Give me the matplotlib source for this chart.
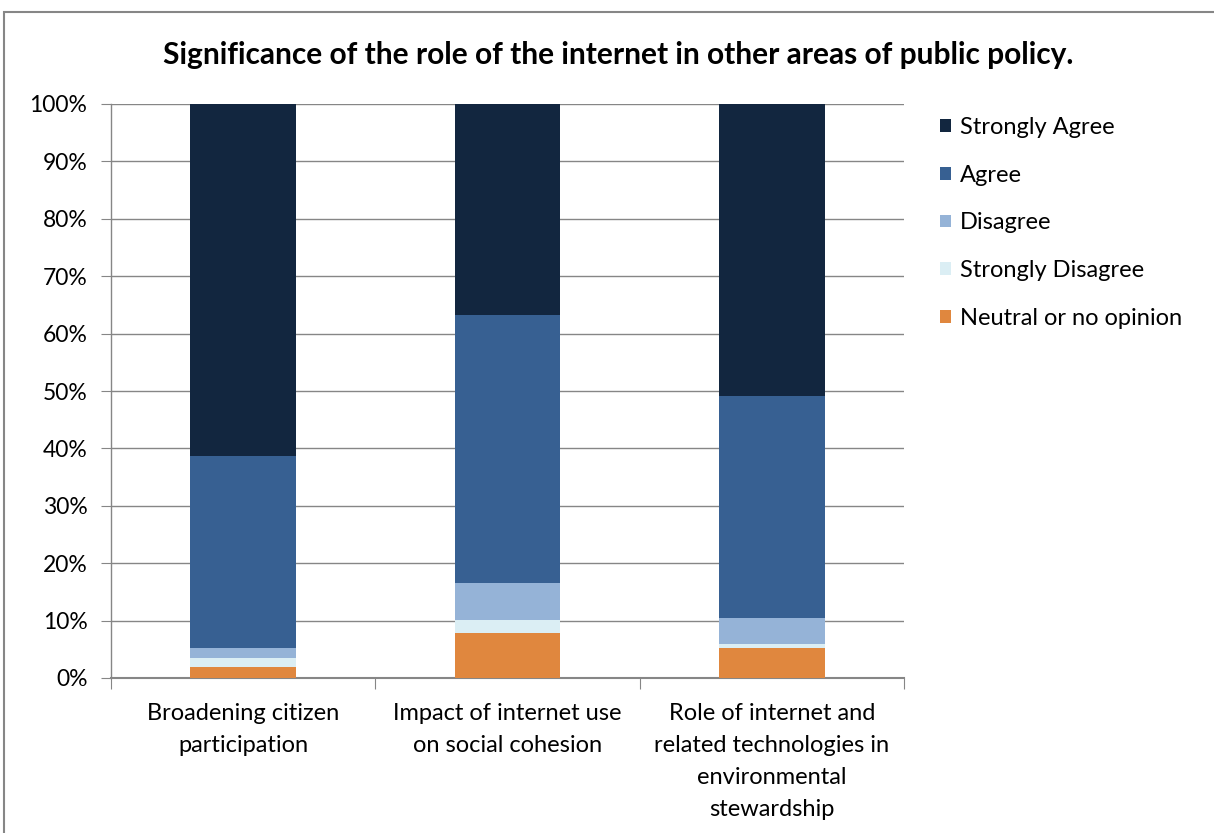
import numpy as np
import matplotlib
matplotlib.use("Agg")
import matplotlib.pyplot as plt
from matplotlib.patches import Rectangle, Patch
from matplotlib.ticker import PercentFormatter

plt.rcParams['font.family'] = ['Lato', 'DejaVu Sans']

categories = ["Broadening citizen\nparticipation",
              "Impact of internet use\non social cohesion",
              "Role of internet and\nrelated technologies in\nenvironmental\nstewardship"]
# stacked bottom-up
series = ["Neutral or no opinion", "Strongly Disagree", "Disagree", "Agree", "Strongly Agree"]
neutral = [1.9, 7.9, 5.2]
strongly_disagree = [1.5, 2.2, 0.8]
disagree = [1.9, 6.5, 4.5]
agree = [33.3, 46.6, 38.7]
strongly_agree = [61.4, 36.8, 50.8]
colors = ["#E0873E", "#DBEEF4", "#95B3D7", "#376092", "#12263F"]

values = [neutral, strongly_disagree, disagree, agree, strongly_agree]

fig = plt.figure(figsize=(12.14, 8.33), dpi=100)
ax = fig.add_axes([111/1214, 1-678/833, (904-111)/1214, (678-104)/833])

# outer chart border
fig.patches.append(Rectangle((4/1214, -0.1), 1.2, 1 - 12/833 + 0.1, transform=fig.transFigure,
                             fill=False, edgecolor="#868686", linewidth=1.5))

x = np.arange(len(categories))
bottom = np.zeros(len(categories))
for name, vals, c in zip(series, values, colors):
    ax.bar(x, vals, 0.4, bottom=bottom, color=c, label=name, zorder=3)
    bottom += np.array(vals)

ax.set_xlim(-0.5, len(categories) - 0.5)
ax.set_ylim(0, 100)
ax.set_yticks(np.arange(0, 101, 10))
ax.yaxis.set_major_formatter(PercentFormatter(decimals=0))
ax.yaxis.grid(True, color="#868686", linewidth=1, zorder=0)
ax.set_axisbelow(True)
for s in ["top", "right"]:
    ax.spines[s].set_visible(False)
ax.spines["left"].set_color("#868686")
ax.spines["bottom"].set_color("#868686")
ax.spines["left"].set_linewidth(1)
ax.spines["bottom"].set_linewidth(1.5)
ax.tick_params(axis="y", length=7, color="#868686", labelsize=16.5, pad=10)

ax.set_xticks(np.arange(-0.5, len(categories), 1.0))
ax.set_xticklabels([])
ax.tick_params(axis="x", length=8, color="#868686")
ax.set_xticks(x, minor=True)
ax.set_xticklabels(categories, minor=True, fontsize=17, linespacing=1.64)
ax.tick_params(axis="x", which="minor", length=0, pad=18)

fig.text(618/1214, 1 - 55/833, "Significance of the role of the internet in other areas of public policy.",
         ha="center", va="center", fontsize=21.5, fontweight="bold")

handles = [Patch(facecolor=c, label=n) for n, c in zip(series[::-1], colors[::-1])]
fig.legend(handles=handles, loc="upper left", bbox_to_anchor=(940/1214, 1 - 117/833),
           frameon=False, fontsize=17, handlelength=0.45, handleheight=0.45,
           handletextpad=0.4, labelspacing=1.13, borderpad=0, borderaxespad=0)

fig.savefig("out.png", dpi=100)
